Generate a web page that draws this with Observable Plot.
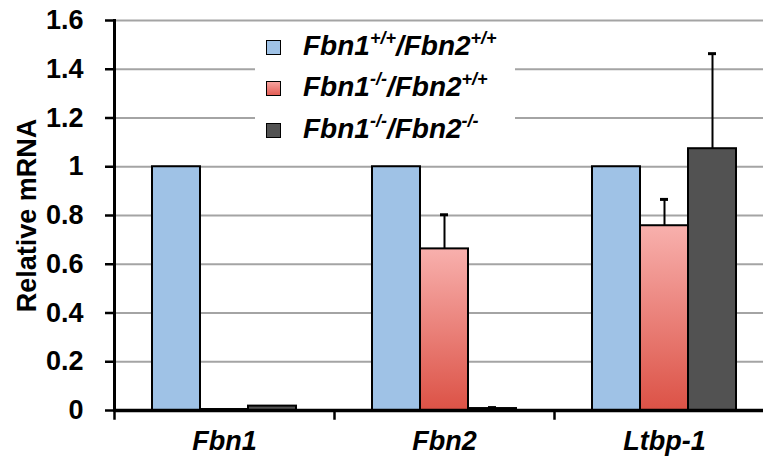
<!DOCTYPE html>
<html><head><meta charset="utf-8">
<script src="https://cdn.jsdelivr.net/npm/d3@7"></script>
<script src="https://cdn.jsdelivr.net/npm/@observablehq/plot@0.6"></script>
<style>
html,body{margin:0;padding:0;overflow:hidden;background:#fff;}
#wrap{position:relative;width:763px;height:468px;font-family:"Liberation Sans",Arial,sans-serif;}
#legend{position:absolute;left:255px;top:25px;width:260px;height:135px;background:#fff;}
.row{position:absolute;left:0;height:40px;display:flex;align-items:center;white-space:nowrap;}
.sw{width:13px;height:13px;border:1.5px solid #000;margin-left:11px;margin-right:22px;}
.lt{font-size:28px;font-weight:bold;font-style:italic;color:#000;line-height:40px;}
.lt sup{font-size:18px;vertical-align:baseline;position:relative;top:-11px;}
</style></head><body>
<div id="wrap"><div id="legend"></div></div>
<script>
const genes = ["Fbn1", "Fbn2", "Ltbp-1"];
const genotypes = ["Fbn1+/+/Fbn2+/+", "Fbn1-/-/Fbn2+/+", "Fbn1-/-/Fbn2-/-"];
const wtValues = [1, 1, 1];
const wtErrors = [0, 0, 0];
const f1koValues = [0.004, 0.663, 0.758];
const f1koErrors = [0, 0.14, 0.108];
const dkoValues = [0.018, 0.008, 1.074];
const dkoErrors = [0, 0.004, 0.39];
const yTicks = [0, 0.2, 0.4, 0.6, 0.8, 1, 1.2, 1.4, 1.6];
const yTickLabels = ["0", "0.2", "0.4", "0.6", "0.8", "1", "1.2", "1.4", "1.6"];
const legendParts = [["+/+", "+/+"], ["-/-", "+/+"], ["-/-", "-/-"]];
const fills = ["#9fc2e6", "url(#redgrad)", "#525252"];

const series = [[wtValues, wtErrors], [f1koValues, f1koErrors], [dkoValues, dkoErrors]];
const data = [];
genes.forEach((g, gi) => series.forEach(([v, e], si) => {
  data.push({gene: g, genotype: genotypes[si], value: v[gi], err: e[gi], fill: fills[si]});
}));
const errData = data.filter(d => d.err > 0);

const chart = Plot.plot({
  width: 763, height: 468,
  marginLeft: 114, marginRight: -11, marginTop: 20, marginBottom: 58,
  style: {fontFamily: "Liberation Sans, Arial, sans-serif", fontSize: "27px", fontWeight: "bold", background: "transparent", color: "#000"},
  fx: {domain: genes, padding: 0, label: null},
  x: {domain: genotypes, paddingInner: 0, paddingOuter: 0.76, axis: null},
  y: {domain: [0, 1.6], label: null, axis: null},
  color: {type: "identity"},
  marks: [
    Plot.gridY(yTicks, {stroke: "#a4a4a4", strokeWidth: 2, strokeOpacity: 1}),
    Plot.barY(data, {fx: "gene", x: "genotype", y: "value", fill: "fill", stroke: "#000", strokeWidth: 2}),
    Plot.ruleX(errData, {fx: "gene", x: "genotype", y1: "value", y2: d => d.value + d.err, stroke: "#000", strokeWidth: 2}),
    Plot.tickY(errData, {fx: "gene", x: "genotype", y: d => d.value + d.err, stroke: "#000", strokeWidth: 3, inset: 20}),
    Plot.ruleY([0], {stroke: "#000", strokeWidth: 3.5}),
    Plot.frame({anchor: "left", stroke: "#000", strokeWidth: 2.5, insetTop: 390, insetBottom: -8}),
    Plot.frame({anchor: "left", stroke: "#000", strokeWidth: 3, facetAnchor: "left"}),
    Plot.axisY(yTicks, {anchor: "left", tickSize: 9, tickPadding: 22, strokeWidth: 2.5, tickFormat: (d, i) => yTickLabels[i], label: "Relative mRNA", labelArrow: false, labelAnchor: "center", labelOffset: 98}),
    Plot.axisFx({anchor: "bottom", tickSize: 0, tickPadding: 20, fontStyle: "italic", label: null})
  ]
});

const defs = d3.select(chart).insert("defs", ":first-child");
const grad = defs.append("linearGradient").attr("id", "redgrad").attr("x1", 0).attr("y1", 0).attr("x2", 0).attr("y2", 1);
grad.append("stop").attr("offset", 0).attr("stop-color", "#f8b0ad");
grad.append("stop").attr("offset", 1).attr("stop-color", "#dc5246");

const wrap = document.getElementById("wrap");
wrap.insertBefore(chart, wrap.firstChild);

const legend = document.getElementById("legend");
const rowCenters = [22.5, 63.5, 105];
genotypes.forEach((gt, i) => {
  const row = document.createElement("div");
  row.className = "row";
  row.style.top = (rowCenters[i] - 20) + "px";
  const sw = document.createElement("div");
  sw.className = "sw";
  sw.style.background = i === 1 ? "linear-gradient(#f6a29e,#e45e55)" : fills[i];
  const t = document.createElement("span");
  t.className = "lt";
  t.innerHTML = `Fbn1<sup>${legendParts[i][0]}</sup>/Fbn2<sup>${legendParts[i][1]}</sup>`;
  row.appendChild(sw); row.appendChild(t);
  legend.appendChild(row);
});
</script>
</body></html>
